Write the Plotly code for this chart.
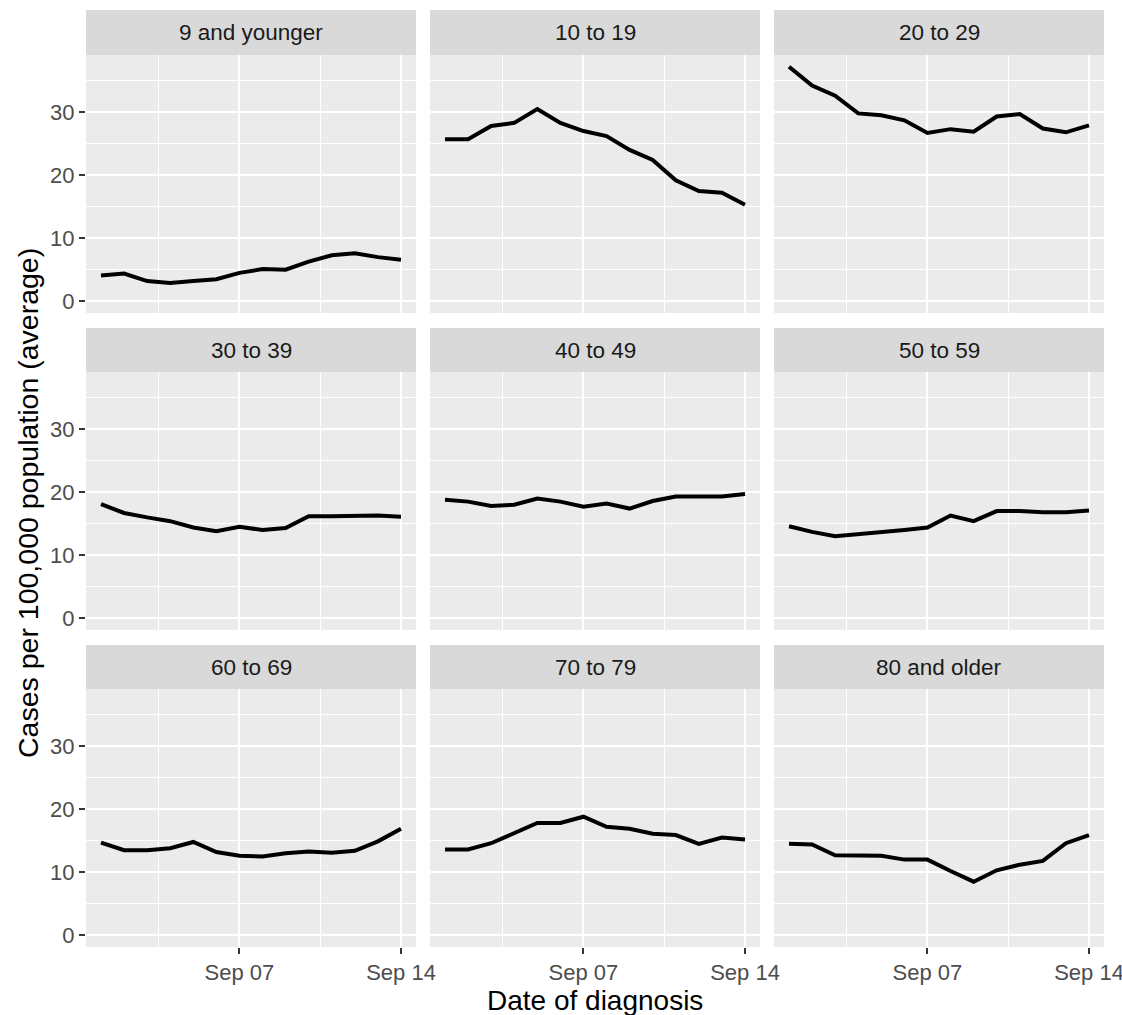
import plotly.graph_objects as go

dates = ["2020-09-%02d" % d for d in range(1, 15)]
age_groups = ["9 and younger", "10 to 19", "20 to 29",
              "30 to 39", "40 to 49", "50 to 59",
              "60 to 69", "70 to 79", "80 and older"]

v_0_9 = [4.1, 4.4, 3.2, 2.9, 3.2, 3.5, 4.5, 5.1, 5.0, 6.3, 7.3, 7.6, 7.0, 6.6]
v_10_19 = [25.7, 25.7, 27.8, 28.3, 30.5, 28.3, 27.0, 26.2, 24.0, 22.4, 19.2, 17.5, 17.2, 15.3]
v_20_29 = [37.2, 34.2, 32.6, 29.8, 29.5, 28.7, 26.7, 27.3, 26.9, 29.3, 29.7, 27.4, 26.8, 27.9]
v_30_39 = [18.1, 16.7, 16.0, 15.4, 14.4, 13.8, 14.5, 14.0, 14.3, 16.2, 16.2, 16.2, 16.3, 16.1]
v_40_49 = [18.8, 18.5, 17.8, 18.0, 19.0, 18.5, 17.7, 18.2, 17.4, 18.6, 19.3, 19.3, 19.3, 19.7]
v_50_59 = [14.6, 13.7, 13.0, 13.3, 13.6, 14.0, 14.4, 16.3, 15.4, 17.0, 17.0, 16.8, 16.8, 17.1]
v_60_69 = [14.7, 13.5, 13.5, 13.8, 14.8, 13.2, 12.6, 12.5, 13.0, 13.3, 13.1, 13.4, 14.9, 16.9]
v_70_79 = [13.6, 13.6, 14.6, 16.2, 17.8, 17.8, 18.8, 17.2, 16.9, 16.1, 15.9, 14.5, 15.5, 15.2]
v_80_plus = [14.5, 14.4, 12.7, 12.6, 12.6, 12.0, 12.0, 10.2, 8.5, 10.3, 11.2, 11.8, 14.6, 15.9]

series = [v_0_9, v_10_19, v_20_29, v_30_39, v_40_49, v_50_59, v_60_69, v_70_79, v_80_plus]

x_tickvals = ["2020-09-07", "2020-09-14"]
x_ticktext = ["Sep 07", "Sep 14"]
x_minor = ["2020-09-03 12:00", "2020-09-10 12:00"]
y_tickvals = [0, 10, 20, 30]
y_minor = [5, 15, 25, 35]

W, H = 1122, 1015
col_px = [(86, 416), (430, 760), (774, 1104)]
row_px = [(55, 313), (372, 630), (689, 947)]
strip_px = [(10, 55), (328, 372), (645, 689)]

FONT = "Liberation Sans, Arial, sans-serif"
fig = go.Figure()
layout = dict(
    width=W, height=H, autosize=False, margin=dict(l=0, r=0, t=0, b=0, autoexpand=False),
    paper_bgcolor="white", plot_bgcolor="#EBEBEB", showlegend=False,
    font=dict(family=FONT, color="#4D4D4D"),
)
shapes = []
annotations = []

for i, (name, vals) in enumerate(zip(age_groups, series)):
    r, c = divmod(i, 3)
    k = i + 1
    xa = "x" if k == 1 else "x%d" % k
    ya = "y" if k == 1 else "y%d" % k
    fig.add_trace(go.Scatter(x=dates, y=vals, mode="lines", xaxis=xa, yaxis=ya,
                             line=dict(color="black", width=4)))
    x0, x1 = col_px[c]
    y0, y1 = row_px[r]
    xdom = [x0 / W, x1 / W]
    ydom = [1 - y1 / H, 1 - y0 / H]
    layout["xaxis" if k == 1 else "xaxis%d" % k] = dict(
        domain=xdom, anchor=ya, type="date", automargin=False, ticklabeloverflow="allow",
        range=["2020-08-31 08:24", "2020-09-14 15:36"],
        tickmode="array", tickvals=x_tickvals, ticktext=x_ticktext,
        showticklabels=(r == 2), ticks="outside" if r == 2 else "",
        ticklen=6, tickwidth=1.5, tickcolor="#333333",
        tickfont=dict(size=22, color="#4D4D4D", family=FONT),
        showgrid=True, gridcolor="white", gridwidth=2.2,
        minor=dict(tickvals=x_minor, showgrid=True, gridcolor="white", gridwidth=1.1, ticks=""),
        zeroline=False, showline=False, fixedrange=True,
    )
    layout["yaxis" if k == 1 else "yaxis%d" % k] = dict(
        domain=ydom, anchor=xa, automargin=False,
        range=[-1.86, 39.06],
        tickmode="array", tickvals=y_tickvals,
        showticklabels=(c == 0), ticks="outside" if c == 0 else "",
        ticklen=6, tickwidth=1.5, tickcolor="#333333",
        tickfont=dict(size=22, color="#4D4D4D", family=FONT),
        showgrid=True, gridcolor="white", gridwidth=2.2,
        minor=dict(tickvals=y_minor, showgrid=True, gridcolor="white", gridwidth=1.1, ticks=""),
        zeroline=False, showline=False, fixedrange=True,
    )
    s0, s1 = strip_px[r]
    shapes.append(dict(type="rect", xref="paper", yref="paper",
                       x0=x0 / W, x1=x1 / W, y0=1 - s1 / H, y1=1 - s0 / H,
                       fillcolor="#D9D9D9", line=dict(width=0), layer="below"))
    annotations.append(dict(text=name, xref="paper", yref="paper",
                            x=(x0 + x1) / 2 / W, y=1 - (s0 + s1) / 2 / H,
                            xanchor="center", yanchor="middle", showarrow=False,
                            font=dict(size=22.5, color="#1A1A1A", family=FONT)))

annotations.append(dict(text="Date of diagnosis", xref="paper", yref="paper",
                        x=(86 + 1104) / 2 / W, y=1 - 1000 / H, xanchor="center", yanchor="middle",
                        showarrow=False, font=dict(size=28, color="black", family=FONT)))
annotations.append(dict(text="Cases per 100,000 population (average)", xref="paper", yref="paper",
                        x=28 / W, y=1 - 503 / H, xanchor="center", yanchor="middle", textangle=-90,
                        showarrow=False, font=dict(size=28.5, color="black", family=FONT)))

layout["shapes"] = shapes
layout["annotations"] = annotations
fig.update_layout(**layout)
fig.write_html(
    "out.html",
    config={"responsive": False, "displayModeBar": False},
    post_script="document.body.style.margin='0';document.body.style.overflow='hidden';",
)
